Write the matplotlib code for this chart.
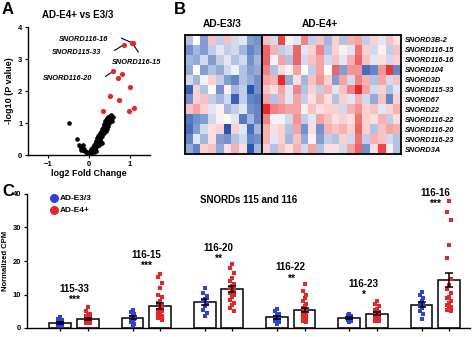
import numpy as np
import matplotlib
matplotlib.use("Agg")
import matplotlib.pyplot as plt
from matplotlib.colors import LinearSegmentedColormap
from matplotlib.lines import Line2D

plt.rcParams['font.family'] = ['Liberation Sans', 'DejaVu Sans']
plt.rcParams['font.weight'] = 'bold'
plt.rcParams['axes.labelweight'] = 'bold'
plt.rcParams['axes.titleweight'] = 'bold'
plt.rcParams['axes.linewidth'] = 1.0

BLUE = '#2f3fe0'
RED = '#e8262a'

# ---------------- A: volcano data ----------------
sig_fc = [1.05, 1.07, 0.86, 0.60, 0.72, 0.81, 1.00, 0.51, 0.73, 0.35, 0.985, 1.11]
sig_p = [3.51, 3.49, 3.45, 2.62, 2.42, 2.54, 2.12, 1.85, 1.73, 1.36, 1.36, 1.47]

ns_fc = [-0.48, -0.30, -0.25, -0.22, -0.20, -0.18, -0.16, -0.14, -0.12, -0.10,
         -0.08, -0.06, -0.05, -0.03, -0.02, -0.15, -0.20,
         0.00, 0.02, 0.03, 0.05, 0.06, 0.08, 0.08, 0.10, 0.10, 0.12, 0.12, 0.14,
         0.14, 0.15, 0.16, 0.17, 0.18, 0.18, 0.20, 0.20, 0.21, 0.22, 0.22, 0.24,
         0.24, 0.25, 0.26, 0.27, 0.28, 0.28, 0.30, 0.30, 0.31, 0.32, 0.33, 0.34,
         0.35, 0.36, 0.36, 0.38, 0.38, 0.40, 0.40, 0.41, 0.42, 0.43, 0.44, 0.45,
         0.46, 0.47, 0.48, 0.50, 0.50, 0.52, 0.53, 0.55, 0.56, 0.58, 0.45, 0.30,
         0.25, 0.18, 0.05, 0.12, 0.33, 0.26]
ns_p = [0.99, 0.50, 0.30, 0.27, 0.22, 0.25, 0.18, 0.15, 0.20, 0.12,
        0.08, 0.10, 0.05, 0.04, 0.02, 0.30, 0.15,
        0.01, 0.03, 0.08, 0.05, 0.12, 0.10, 0.20, 0.15, 0.25, 0.22, 0.30, 0.18,
        0.35, 0.28, 0.40, 0.32, 0.45, 0.25, 0.38, 0.52, 0.30, 0.58, 0.45, 0.50,
        0.62, 0.40, 0.55, 0.68, 0.48, 0.60, 0.72, 0.55, 0.80, 0.65, 0.58, 0.85,
        0.75, 0.68, 0.92, 0.80, 0.98, 0.88, 1.05, 0.75, 1.10, 0.95, 1.02, 1.15,
        0.90, 1.20, 1.08, 1.18, 1.00, 1.22, 1.12, 1.25, 1.05, 1.18, 0.82, 0.42,
        0.30, 0.12, 0.18, 0.08, 0.38, 0.46]

callout_names = ['SNORD116-16', 'SNORD115-33', 'SNORD116-15', 'SNORD116-20']
callout_idx = [0, 2, 1, 3]
callout_text_xy = [(-0.13, 3.61), (-0.31, 3.19), (1.17, 2.90), (-0.52, 2.40)]
callout_line_start = [(0.80, 3.65), (0.63, 3.27), (1.21, 3.22), (0.41, 2.46)]

# ---------------- B: heatmap z-scores ----------------
heat_genes = ['SNORD3B-2', 'SNORD116-15', 'SNORD116-16', 'SNORD104', 'SNORD3D',
              'SNORD115-33', 'SNORD67', 'SNORD22', 'SNORD116-22', 'SNORD116-20',
              'SNORD116-23', 'SNORD3A']
z_e33 = [
    [-0.5, 0.0, -0.8, 0.4, -0.4, 0.4, -0.3, -0.2, -0.8, -0.9],
    [-0.9, -0.6, -0.8, -0.4, -0.2, -0.4, -0.3, -0.6, -1.0, -0.8],
    [-0.6, -0.7, -0.3, -0.8, -0.4, -0.2, -0.5, -0.3, -0.9, -0.6],
    [-0.7, 0.0, -0.8, -0.5, -0.7, -0.3, -0.1, -0.5, -0.8, -0.7],
    [-0.3, -0.6, -0.1, 0.3, -0.4, -0.8, -1.0, -0.5, -0.7, -0.9],
    [-1.3, 0.3, -0.5, 0.0, -0.9, 0.1, -0.6, -0.4, -1.4, -0.9],
    [-0.9, 0.3, 0.4, -0.4, -0.6, -0.3, -1.3, -0.4, -1.0, -1.1],
    [0.4, 0.6, 0.3, -0.2, 0.1, -0.6, -0.4, -0.2, -0.9, -1.0],
    [-1.1, -0.9, -0.8, -0.3, 0.1, 0.0, -0.2, -1.1, -0.6, -1.0],
    [-1.2, -0.8, -0.3, 0.2, 0.3, -1.6, 0.3, -0.2, -1.2, -0.6],
    [-1.0, -0.2, -0.6, 0.2, -0.8, -0.9, -0.5, -0.3, -1.0, -0.9],
    [-0.7, -1.0, 0.3, 0.4, -0.7, 0.2, 0.5, 0.2, -1.4, -0.6],
]
z_e4 = [
    [0.4, -0.3, 1.2, 0.1, -0.2, 0.8, -0.4, 0.4, -0.6, 0.3, -0.5, 0.5, 0.6, -0.4, 0.3, -0.2, 0.4, 0.2],
    [1.0, 0.5, -0.4, -0.3, 1.0, -0.2, 0.3, 0.8, -0.5, 0.3, 0.1, -0.2, 0.9, 0.3, -0.3, 0.1, -0.4, 0.4],
    [1.0, -0.1, 0.6, -0.5, 1.0, -0.3, 0.4, 0.6, -0.3, 0.4, -0.2, 0.5, 1.0, 0.4, -0.2, 0.2, -0.3, 0.3],
    [0.8, -0.5, 0.2, 0.1, 0.6, 0.0, -0.4, 0.6, 0.0, 1.0, -0.8, 0.7, 0.7, -1.2, -1.0, 0.7, 1.3, -1.0],
    [0.6, 0.5, 1.5, -0.7, 0.2, -0.6, 0.4, 0.7, 0.3, -0.8, 0.6, -0.3, 0.8, 0.5, -0.5, 0.6, -0.3, 0.4],
    [0.4, 0.2, 0.6, -0.2, 0.8, -0.5, 0.3, -0.4, 0.5, -0.2, 0.4, 0.8, 1.4, 0.6, -0.3, 0.3, -0.5, -0.2],
    [0.6, -0.5, 0.5, -0.2, 0.6, -0.4, 0.2, 0.5, 0.2, -0.5, 0.3, -0.2, 0.5, -0.3, -0.7, 0.4, -1.0, 0.3],
    [1.4, 0.8, 0.7, 0.6, 0.6, 0.1, 0.4, 0.2, 0.3, 0.3, -0.3, 0.5, 0.7, 0.3, 0.4, -0.2, 0.3, 0.5],
    [0.8, 0.1, -0.1, -0.3, 0.7, -0.4, -0.2, 0.6, 0.4, 0.2, 0.3, 0.2, 0.9, 0.3, 0.2, 0.5, -0.4, 0.2],
    [0.5, 0.2, 0.3, -0.5, 0.6, -0.9, 0.2, -0.9, 0.5, 0.4, 0.5, 0.3, 1.0, 0.3, -0.5, 0.4, 0.6, 0.5],
    [0.5, -0.2, 0.3, -0.6, 0.4, -0.7, 0.1, -0.8, -0.4, -0.5, 0.3, -0.3, 0.9, -0.4, 0.5, 0.4, -0.3, -0.5],
    [0.3, -0.5, 0.4, 0.2, 0.5, -0.3, 0.6, -0.5, 0.2, 0.2, -0.3, 0.6, 1.0, -0.9, 0.2, 1.2, 0.1, -0.5],
]

# ---------------- C: bar chart ----------------
snords = ['115-33', '116-15', '116-20', '116-22', '116-23', '116-16']
stars = ['***', '***', '**', '**', '*', '***']
e33_mean = [1.5, 3.1, 7.8, 3.2, 3.0, 7.0]
e33_sem = [0.3, 0.5, 1.0, 0.5, 0.4, 0.8]
e4_mean = [2.8, 6.6, 11.6, 5.4, 4.3, 14.3]
e4_sem = [0.3, 0.9, 0.8, 0.7, 0.5, 2.2]
e33_pts = [
    [3.2, 2.8, 2.3, 1.9, 1.6, 1.3, 1.0, 0.8, 0.5, 0.2],
    [5.3, 4.8, 4.1, 3.6, 3.2, 2.8, 2.4, 1.9, 1.2, 0.5],
    [12.0, 10.5, 9.5, 8.7, 8.0, 7.3, 6.5, 5.5, 4.5, 3.6],
    [5.8, 5.0, 4.3, 3.8, 3.3, 2.9, 2.5, 2.1, 1.7, 1.3],
    [4.3, 3.9, 3.6, 3.3, 3.1, 2.9, 2.6, 2.4, 2.1, 1.8],
    [10.8, 10.0, 9.0, 8.2, 7.5, 6.8, 6.0, 5.2, 4.2, 2.8],
]
e4_pts = [
    [6.2, 5.0, 4.3, 3.8, 3.5, 3.3, 3.1, 3.0, 2.8, 2.7, 2.5, 2.3, 2.2, 2.0, 1.9, 1.8, 1.6, 1.5],
    [16.0, 15.1, 13.5, 12.0, 10.0, 9.2, 8.2, 7.4, 6.6, 6.0, 5.5, 5.0, 4.5, 4.1, 3.7, 3.3, 2.9, 2.5],
    [19.0, 18.0, 16.5, 15.0, 14.0, 13.2, 12.5, 12.0, 11.5, 11.0, 10.5, 10.0, 9.3, 8.5, 7.5, 6.8, 6.0, 5.0],
    [13.2, 11.0, 10.0, 9.0, 8.0, 7.2, 6.5, 6.0, 5.5, 5.0, 4.6, 4.2, 3.8, 3.4, 3.0, 2.6, 2.2, 1.8],
    [8.0, 7.3, 6.5, 5.8, 5.3, 4.9, 4.6, 4.3, 4.0, 3.8, 3.6, 3.3, 3.1, 2.9, 2.7, 2.5, 2.2, 2.0],
    [38.0, 34.6, 32.3, 24.9, 20.8, 14.5, 12.8, 11.5, 10.5, 9.4, 9.0, 8.2, 7.5, 6.8, 6.2, 5.8, 5.3, 5.0],
]
label_y = [11.7, 21.9, 23.8, 18.1, 13.1, 40.4]

fig = plt.figure(figsize=(4.74, 3.37), dpi=100)
W, H = 474, 337

def px_axes(x0, y0, x1, y1):
    return fig.add_axes([x0 / W, 1 - y1 / H, (x1 - x0) / W, (y1 - y0) / H])

# ---- panel A
ax_a = px_axes(28, 27, 150, 155)
ax_a.scatter(ns_fc, ns_p, s=11, color='black', lw=0, zorder=2)
ax_a.scatter(sig_fc, sig_p, s=14, color=RED, lw=0, zorder=3)
for name, i, (tx, ty), (lx, ly) in zip(callout_names, callout_idx, callout_text_xy, callout_line_start):
    ax_a.text(tx, ty, name, fontsize=5.3, style='italic', ha='center', va='center')
    ax_a.plot([lx, sig_fc[i]], [ly, sig_p[i]], color='black', lw=0.8, zorder=1)
ax_a.set_xlim(-1.5, 1.5)
ax_a.set_ylim(0, 4)
ax_a.set_xticks([-1, 0, 1])
ax_a.set_yticks([0, 1, 2, 3, 4])
ax_a.tick_params(labelsize=5.5, length=2.5, width=0.8, pad=1.5)
ax_a.spines[['top', 'right']].set_visible(False)
ax_a.set_xlabel('log2 Fold Change', fontsize=6.5, labelpad=1)
ax_a.set_ylabel('-log10 (P value)', fontsize=6.5, labelpad=3)
fig.text(78 / W, 1 - 15 / H, 'AD-E4+ vs E3/3', fontsize=7, ha='center', va='center')

# ---- panel B
cmap = LinearSegmentedColormap.from_list('bwr_soft', ['#2a55b0', '#ffffff', '#e8282a'])
z = np.hstack([np.array(z_e33), np.array(z_e4)])
ax_b = px_axes(185, 35, 401, 154)
ax_b.imshow(z, cmap=cmap, vmin=-1.4, vmax=1.4, aspect='auto', interpolation='nearest')
ax_b.axvline(len(z_e33[0]) - 0.5, color='black', lw=1.3)
for s in ax_b.spines.values():
    s.set_linewidth(1.3)
ax_b.set_xticks([])
ax_b.yaxis.tick_right()
ax_b.set_yticks(range(len(heat_genes)))
ax_b.set_yticklabels(heat_genes, fontsize=5.3, style='italic')
ax_b.tick_params(axis='y', length=0, pad=3)
fig.text(222 / W, 1 - 24 / H, 'AD-E3/3', fontsize=7.3, ha='center', va='center')
fig.text(320 / W, 1 - 24 / H, 'AD-E4+', fontsize=7.3, ha='center', va='center')

# ---- panel C
ax_c = px_axes(27, 194, 470, 328)
centers = np.arange(len(snords))
off, bw = 0.19, 0.30
for k in range(len(snords)):
    for pos, mean, sem, pts, col in [(centers[k] - off, e33_mean[k], e33_sem[k], e33_pts[k], BLUE),
                                     (centers[k] + off, e4_mean[k], e4_sem[k], e4_pts[k], RED)]:
        ax_c.bar(pos, mean, width=bw, color='white', edgecolor='black', lw=1.1, zorder=1)
        jit = np.resize([0.0, -0.025, 0.025], len(pts))
        ax_c.scatter(pos + jit, pts, s=6, color=col, marker='s', lw=0, zorder=2)
        ax_c.errorbar(pos, mean, yerr=sem, color='black', capsize=3, elinewidth=1.1,
                      capthick=1.1, zorder=3)
    ax_c.text(centers[k], label_y[k], snords[k], fontsize=7, ha='center', va='center')
    ax_c.text(centers[k], label_y[k] - 3.3, stars[k], fontsize=7.5, ha='center', va='center')
ax_c.set_xlim(-0.65, 5.48)
ax_c.set_ylim(0, 40)
ax_c.set_yticks([0, 10, 20, 30, 40])
ax_c.set_xticks(np.sort(np.concatenate([centers - off, centers + off])))
ax_c.set_xticklabels([])
ax_c.tick_params(labelsize=5.5, length=2.5, width=0.9, pad=1.5)
ax_c.spines[['top', 'right']].set_visible(False)
ax_c.set_ylabel('Normalized CPM', fontsize=5.5, labelpad=3)
ax_c.set_title('SNORDs 115 and 116', fontsize=7, pad=0, y=0.93)
handles = [Line2D([], [], marker='o', ls='', color=BLUE, markersize=5.5),
           Line2D([], [], marker='o', ls='', color=RED, markersize=5.5)]
ax_c.legend(handles, ['AD-E3/3', 'AD-E4+'], loc='upper left', bbox_to_anchor=(0.045, 1.02),
            frameon=False, fontsize=6, handletextpad=0.2, labelspacing=0.5,
            handlelength=1.0, borderaxespad=0)

for letter, x, y in [('A', 8, 9), ('B', 180, 9), ('C', 8, 192)]:
    fig.text(x / W, 1 - y / H, letter, fontsize=12, ha='center', va='center')

fig.savefig('out.png', dpi=100)
